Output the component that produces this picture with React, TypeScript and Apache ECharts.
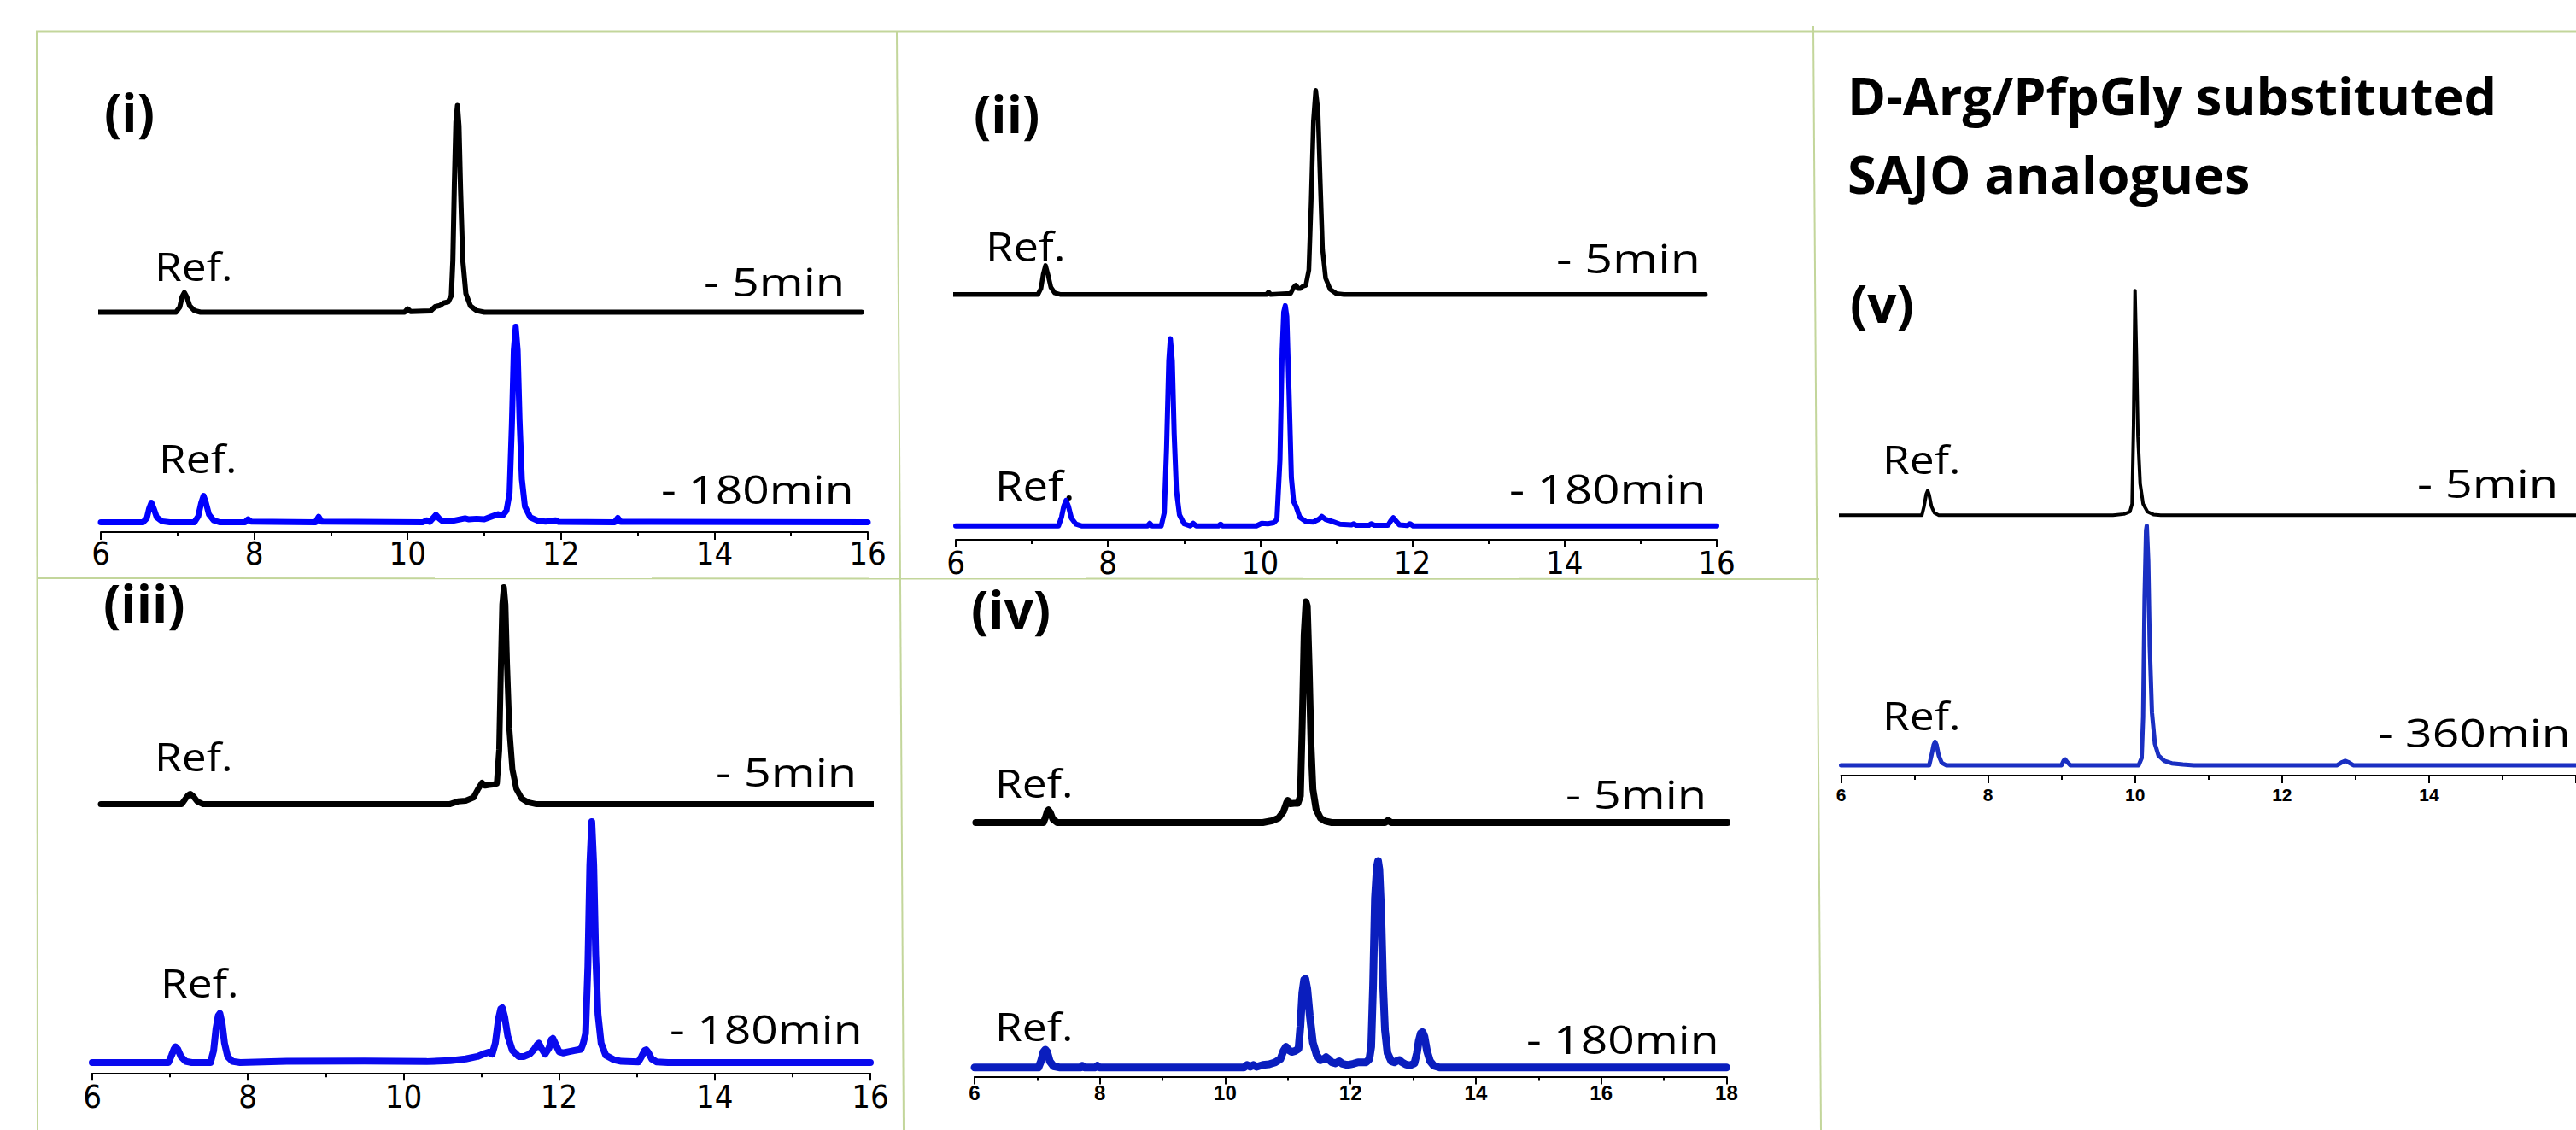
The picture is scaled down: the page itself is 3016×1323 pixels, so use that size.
import React, { useEffect, useRef } from "react";
import * as echarts from "echarts";

// ---------- DATA (retention time in min, intensity in % of the tallest peak of each trace) ----------
const panelLabels = ["(i)", "(ii)", "(iii)", "(iv)", "(v)"];
const refLabel = "Ref.";
const earlyLabels = ["- 5min", "- 5min", "- 5min", "- 5min", "- 5min"];
const lateLabels = ["- 180min", "- 180min", "- 180min", "- 180min", "- 360min"];
const titleLines = ["D-Arg/PfpGly substituted", "SAJO analogues"];
const xMins = [6, 6, 6, 6, 6];
const xMaxs = [16, 16, 16, 18, 16];
const xTickStep = 2;

const p1Black = [[5.86,0],[6.98,0],[7.03,2.5],[7.06,7.5],[7.09,9.5],[7.12,7.5],[7.16,3],[7.22,0.8],[7.3,0],[9.96,0],[10.0,1.6],[10.04,0.3],[10.3,0.6],[10.36,2.7],[10.42,3.2],[10.47,4.5],[10.53,5],[10.57,8],[10.59,25],[10.61,62],[10.63,92],[10.65,100],[10.67,90],[10.69,60],[10.72,25],[10.76,9],[10.82,3],[10.9,0.8],[11.0,0],[15.92,0]];
const p1Blue = [[6.0,0],[6.55,0],[6.6,2],[6.63,7],[6.66,10],[6.69,7],[6.73,2.5],[6.8,0.5],[6.9,0],[7.22,0],[7.27,3],[7.31,10],[7.34,13.5],[7.37,10],[7.41,4],[7.47,1],[7.55,0],[7.88,0],[7.92,1.5],[7.96,0.3],[8.8,0],[8.84,2.8],[8.88,0.3],[10.2,0],[10.25,1],[10.29,0.2],[10.33,2],[10.37,3.8],[10.41,2],[10.46,0.5],[10.6,0.8],[10.75,2],[10.8,1.5],[10.9,1.8],[11.0,1.5],[11.1,3],[11.18,4.1],[11.24,3.5],[11.29,6],[11.33,15],[11.36,50],[11.385,88],[11.41,100],[11.435,88],[11.46,52],[11.49,22],[11.53,8],[11.6,2.5],[11.7,0.8],[11.8,0.3],[11.93,1],[11.97,0.2],[12.7,0],[12.74,2.2],[12.78,0.2],[16.0,0]];

const p2Black = [[5.82,0],[7.08,0],[7.12,3],[7.15,10],[7.18,14.2],[7.21,10],[7.25,3.5],[7.3,0.8],[7.38,0],[10.08,0],[10.11,1.2],[10.14,0],[10.4,0.5],[10.44,3.5],[10.47,4.6],[10.5,3],[10.53,3],[10.56,4],[10.6,4.5],[10.64,12],[10.67,45],[10.7,85],[10.73,100],[10.76,90],[10.79,55],[10.82,22],[10.86,8],[10.92,2.5],[11.0,0.5],[11.1,0],[15.85,0]];
const p2Blue = [[6.0,0],[7.35,0],[7.39,4],[7.42,9],[7.45,11.6],[7.48,9],[7.52,3.5],[7.58,0.8],[7.66,0],[8.52,0],[8.55,1.2],[8.58,0],[8.7,0],[8.74,6],[8.77,35],[8.8,75],[8.82,85],[8.845,75],[8.87,42],[8.9,16],[8.94,5],[9.0,1],[9.08,0],[9.12,1.2],[9.16,0],[9.45,0],[9.48,0.8],[9.51,0],[9.95,0],[10.02,1.2],[10.1,1],[10.18,1.5],[10.22,3],[10.26,30],[10.29,80],[10.31,97],[10.33,100],[10.35,95],[10.38,60],[10.41,22],[10.44,11],[10.47,9],[10.52,4],[10.6,2],[10.7,1.8],[10.77,3],[10.81,4.3],[10.86,3],[10.95,2],[11.05,0.8],[11.2,0.5],[11.23,1],[11.26,0.3],[11.43,0.3],[11.46,1],[11.5,0.3],[11.68,0.3],[11.72,2.5],[11.75,3.7],[11.78,2.5],[11.83,0.5],[11.93,0.2],[11.97,1],[12.01,0],[16.0,0]];

const p3Black = [[6.11,0],[7.15,0],[7.2,2.5],[7.23,4],[7.26,4.7],[7.3,3.5],[7.35,1.2],[7.42,0],[10.6,0],[10.7,1.2],[10.8,1.5],[10.9,3],[10.96,7],[11.01,9.8],[11.05,8.5],[11.1,8.8],[11.15,9],[11.2,9.5],[11.23,25],[11.25,60],[11.27,92],[11.29,100],[11.31,92],[11.33,65],[11.36,35],[11.4,16],[11.45,7],[11.52,2.5],[11.6,0.8],[11.7,0],[16.06,0]];
const p3Blue = [[6.0,0],[6.98,0],[7.02,3],[7.05,5.5],[7.07,6.5],[7.1,5.5],[7.14,2.5],[7.2,0.5],[7.28,0],[7.52,0],[7.56,5],[7.59,14],[7.62,19.5],[7.64,20.4],[7.67,16],[7.7,8],[7.74,2.5],[7.8,0.5],[7.9,0],[8.5,0.5],[9.5,0.6],[10.3,0.4],[10.6,0.8],[10.8,1.5],[10.95,2.5],[11.05,3.8],[11.1,4.3],[11.14,3.5],[11.18,8],[11.22,18],[11.25,22.3],[11.27,22.7],[11.3,19],[11.34,11],[11.4,5],[11.48,2.5],[11.55,2.5],[11.62,3.5],[11.68,5.5],[11.72,7.5],[11.74,8],[11.77,6],[11.82,3.5],[11.87,6],[11.9,9.5],[11.92,10],[11.95,8],[12.0,4.5],[12.05,4],[12.12,4.5],[12.2,5],[12.28,5.5],[12.31,8],[12.34,12],[12.37,40],[12.395,82],[12.42,100],[12.445,82],[12.47,45],[12.5,20],[12.54,8],[12.6,3],[12.7,1.2],[12.8,0.5],[13.02,0.3],[13.06,2.5],[13.1,5],[13.12,5.3],[13.15,4],[13.19,1.5],[13.25,0.3],[13.4,0],[16.0,0]];

const p4Black = [[6.02,0],[7.1,0],[7.14,3],[7.16,5],[7.18,5.7],[7.21,4.5],[7.25,1.5],[7.32,0],[10.6,0],[10.75,0.8],[10.85,2],[10.93,5],[10.98,9],[11.0,10],[11.04,8.5],[11.1,8.7],[11.16,8.7],[11.2,12],[11.23,45],[11.26,85],[11.29,100],[11.31,98],[11.34,70],[11.37,35],[11.4,15],[11.45,6],[11.52,2],[11.6,0.6],[11.7,0],[12.55,0],[12.6,1],[12.65,0],[18.02,0]];
const p4Blue = [[6.0,0],[7.02,0],[7.06,3],[7.1,7.5],[7.13,8.6],[7.16,7.5],[7.2,3],[7.26,0.6],[7.35,0],[7.7,0],[7.72,0.8],[7.75,0],[7.93,0],[7.96,0.8],[7.99,0],[10.3,0],[10.35,1.2],[10.4,0.3],[10.45,1.2],[10.5,0.3],[10.6,1.2],[10.7,1.5],[10.8,2.5],[10.88,4],[10.93,8],[10.97,10],[11.01,8.5],[11.06,7.5],[11.12,8],[11.17,9],[11.2,20],[11.23,36],[11.26,42.5],[11.28,42.9],[11.31,38],[11.35,25],[11.4,12],[11.46,6],[11.52,3.5],[11.57,4],[11.61,5],[11.65,4],[11.7,2.5],[11.76,2],[11.82,3],[11.87,1.8],[11.95,1.2],[12.05,1.8],[12.12,2.5],[12.18,2.5],[12.25,2.5],[12.3,4],[12.33,10],[12.36,40],[12.39,82],[12.42,97],[12.44,100],[12.46,96],[12.49,75],[12.52,40],[12.55,18],[12.59,7],[12.65,3],[12.7,2.5],[12.75,3.3],[12.78,3.6],[12.82,2.5],[12.88,1.5],[12.95,1],[13.02,2],[13.06,7],[13.09,13],[13.12,16.5],[13.15,17.1],[13.18,15],[13.22,8],[13.27,3],[13.33,0.8],[13.42,0],[18.0,0]];

const p5Black = [[5.93,0],[7.1,0],[7.13,4],[7.16,9.5],[7.18,11],[7.2,9],[7.23,4],[7.27,1],[7.33,0],[9.7,0],[9.85,0.5],[9.93,1.5],[9.96,5],[9.98,40],[10.0,100],[10.02,70],[10.04,35],[10.07,14],[10.11,5],[10.17,1.5],[10.25,0.3],[10.35,0],[16.3,0]];
const p5Blue = [[6.0,0],[7.2,0],[7.23,4],[7.26,8.5],[7.28,9.8],[7.3,8.5],[7.33,4],[7.37,1],[7.43,0],[9.0,0],[9.03,2],[9.05,2.4],[9.08,1.2],[9.12,0],[10.05,0],[10.09,3],[10.11,20],[10.13,70],[10.15,98],[10.16,100],[10.18,85],[10.2,50],[10.23,22],[10.27,9],[10.32,4],[10.4,1.8],[10.5,0.8],[10.65,0.3],[10.8,0],[12.75,0],[12.82,1.3],[12.86,1.8],[12.9,1.3],[12.97,0],[16.0,0]];

const blackTraces = [p1Black, p2Black, p3Black, p4Black, p5Black];
const blueTraces = [p1Blue, p2Blue, p3Blue, p4Blue, p5Blue];

// ---------- LAYOUT / STYLE ----------
const W = 3016;
const H = 1323;
const fontText = "'Open Sans', 'Noto Sans', sans-serif";
const fontNarrow = "'Liberation Sans Narrow', 'Arial Narrow', 'DejaVu Sans Condensed', sans-serif";
const fontAxisBold = "'Liberation Sans', Arial, sans-serif";
const green = "#c3d69b";

const panels = [
  { x0: 118, x1: 1016, axisY: 623, blueBase: 611.5, bluePk: 229, blackBase: 365.5, blackPk: 242,
    blackW: 6, blueW: 7, blue: "#0000ff", tickFont: fontNarrow, tickSize: 38, tickWeight: "normal", tickMargin: 6, showMax: true,
    label: [122, 131], refBk: [181, 311], tBk: [824, 329], refBl: [186, 536], tBl: [774, 572], txtSize: 46 },
  { x0: 1119, x1: 2010, axisY: 632, blueBase: 615.8, bluePk: 258, blackBase: 344.8, blackPk: 239,
    blackW: 5.5, blueW: 6, blue: "#0000f4", tickFont: fontNarrow, tickSize: 38, tickWeight: "normal", tickMargin: 8, showMax: true,
    label: [1140, 133], refBk: [1154, 288], tBk: [1822, 302], refBl: [1165, 568], tBl: [1767, 572], txtSize: 47 },
  { x0: 108, x1: 1019, axisY: 1256.3, blueBase: 1244, bluePk: 282, blackBase: 941.4, blackPk: 254,
    blackW: 7, blueW: 8, blue: "#0a0aee", tickFont: fontNarrow, tickSize: 38, tickWeight: "normal", tickMargin: 9, showMax: true,
    label: [121, 706], refBk: [181, 885], tBk: [838, 903], refBl: [188, 1150], tBl: [784, 1204], txtSize: 46 },
  { x0: 1141, x1: 2021.4, axisY: 1260.6, blueBase: 1249.7, bluePk: 241.7, blackBase: 963, blackPk: 258.5,
    blackW: 8, blueW: 9, blue: "#0a1ebe", tickFont: fontAxisBold, tickSize: 24, tickWeight: "bold", tickMargin: 7, showMax: true,
    label: [1137, 713], refBk: [1165, 916], tBk: [1833, 929], refBl: [1165, 1201], tBl: [1787, 1216], txtSize: 46 },
  { x0: 2155.5, x1: 3035.5, axisY: 908, blueBase: 895.9, bluePk: 280.5, blackBase: 603.2, blackPk: 263,
    blackW: 4, blueW: 5, blue: "#1a2fc2", tickFont: fontAxisBold, tickSize: 21, tickWeight: "bold", tickMargin: 12, showMax: false,
    label: [2166, 355], refBk: [2204, 537], tBk: [2830, 565], refBl: [2204, 837], tBl: [2784, 857], txtSize: 46 },
];

function textEl(x: number, y: number, text: string, size: number, weight: string, scaleX: number) {
  return {
    type: "text",
    x,
    y,
    scaleX,
    silent: true,
    style: {
      text,
      fontSize: size,
      fontFamily: fontText,
      fontWeight: weight,
      fill: "#000",
      align: "left",
      verticalAlign: "middle",
    },
  };
}

function buildOption() {
  const grid: any[] = [];
  const xAxis: any[] = [];
  const yAxis: any[] = [];
  const series: any[] = [];
  const graphic: any[] = [];

  panels.forEach((p, i) => {
    const width = p.x1 - p.x0;
    // blue (late) trace grid with the visible time axis
    const gBlue = grid.length;
    grid.push({ left: p.x0, width, top: p.blueBase - p.bluePk, height: p.bluePk });
    xAxis.push({
      type: "value",
      gridIndex: gBlue,
      min: xMins[i],
      max: xMaxs[i],
      interval: xTickStep,
      position: "bottom",
      offset: p.axisY - p.blueBase,
      axisLine: { show: true, onZero: false, lineStyle: { color: "#000", width: 2 } },
      axisTick: { show: true, inside: false, length: 9, lineStyle: { color: "#000", width: 2 } },
      minorTick: { show: true, splitNumber: 2, length: 5, lineStyle: { color: "#000", width: 2 } },
      splitLine: { show: false },
      minorSplitLine: { show: false },
      axisLabel: {
        show: true,
        margin: p.tickMargin,
        color: "#000",
        fontFamily: p.tickFont,
        fontSize: p.tickSize,
        fontWeight: p.tickWeight,
        showMaxLabel: p.showMax,
      },
    });
    yAxis.push({ type: "value", gridIndex: gBlue, min: 0, max: 100, show: false });
    series.push({
      type: "line",
      xAxisIndex: gBlue,
      yAxisIndex: gBlue,
      data: blueTraces[i],
      showSymbol: false,
      symbol: "none",
      clip: false,
      silent: true,
      lineStyle: { color: p.blue, width: p.blueW, join: "round", cap: "round" },
    });

    // black (early) trace grid, same time scale, hidden axes
    const gBlack = grid.length;
    grid.push({ left: p.x0, width, top: p.blackBase - p.blackPk, height: p.blackPk });
    xAxis.push({ type: "value", gridIndex: gBlack, min: xMins[i], max: xMaxs[i], show: false });
    yAxis.push({ type: "value", gridIndex: gBlack, min: 0, max: 100, show: false });
    series.push({
      type: "line",
      xAxisIndex: gBlack,
      yAxisIndex: gBlack,
      data: blackTraces[i],
      showSymbol: false,
      symbol: "none",
      clip: false,
      silent: true,
      lineStyle: { color: "#000", width: p.blackW, join: "round", cap: "round" },
    });

    // texts
    graphic.push(textEl(p.label[0], p.label[1], panelLabels[i], 60, "bold", 1));
    graphic.push(textEl(p.refBk[0], p.refBk[1], refLabel, p.txtSize, "normal", 1.12));
    graphic.push(textEl(p.tBk[0], p.tBk[1], earlyLabels[i], p.txtSize, "normal", 1.22));
    graphic.push(textEl(p.refBl[0], p.refBl[1], refLabel, p.txtSize, "normal", 1.12));
    graphic.push(textEl(p.tBl[0], p.tBl[1], lateLabels[i], p.txtSize, "normal", 1.2));
  });

  // title of panel (v)
  graphic.push(textEl(2163, 111, titleLines[0], 61, "bold", 1));
  graphic.push(textEl(2163, 203, titleLines[1], 61, "bold", 1));

  // table borders
  const lines = [
    [42, 37, W, 37, 3],
    [43, 37, 44, H, 2],
    [1050, 37, 1058, H, 2],
    [2123, 31, 2132, H, 2],
    [43, 677, 2130, 678, 2],
  ];
  lines.forEach((l) => {
    graphic.push({
      type: "line",
      silent: true,
      z: -1,
      shape: { x1: l[0], y1: l[1], x2: l[2], y2: l[3] },
      style: { stroke: green, lineWidth: l[4] },
    });
  });

  return {
    animation: false,
    backgroundColor: "#ffffff",
    grid,
    xAxis,
    yAxis,
    series,
    graphic,
  };
}

export default function App() {
  const ref = useRef<HTMLDivElement>(null);
  useEffect(() => {
    if (!ref.current) return;
    const chart = echarts.init(ref.current, null, { renderer: "svg", width: W, height: H });
    chart.setOption(buildOption() as any);
    return () => chart.dispose();
  }, []);
  return (
    <div
      ref={ref}
      style={{ position: "absolute", left: 0, top: 0, width: W, height: H, overflow: "hidden", background: "#fff" }}
    />
  );
}
